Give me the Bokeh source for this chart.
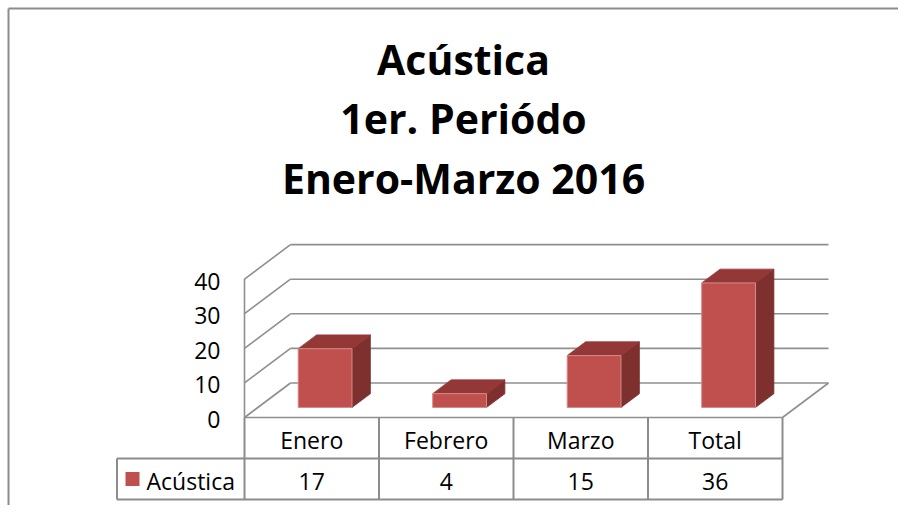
from bokeh.plotting import figure
from bokeh.models import Range1d
from bokeh.core.properties import value
from bokeh.embed import file_html
from bokeh.resources import INLINE

# ---- data ----
categories = ["Enero", "Febrero", "Marzo", "Total"]
values = [17, 4, 15, 36]
series_name = "Acústica"
y_ticks = [0, 10, 20, 30, 40]
title_lines = ["Acústica", "1er. Periódo", "Enero-Marzo 2016"]

# ---- layout (pixels) ----
W, H = 898, 505
PX_X = 134.5          # px per category column
PX_Y = 3.46           # px per value unit
OX, OY = 244, 417     # floor front-left corner, from figure top-left
DX = 46 / PX_X        # depth offset
DY = 34.5 / PX_Y
F0, F1 = 0.29, 0.69   # bar depth (fraction)
BW = 0.40
R1 = 41 / PX_Y
R2 = 82 / PX_Y
LX = (116.5 - OX) / PX_X

FONT = value("Open Sans")
FS = "23px"
GRID = "#8f8f8f"
FRONT, TOP, SIDE = "#C0504D", "#943837", "#7D302E"

p = figure(width=W, height=H, output_backend="svg", toolbar_location=None,
           x_range=Range1d(-OX / PX_X, (W - OX) / PX_X),
           y_range=Range1d(-(H - OY) / PX_Y, OY / PX_Y),
           min_border=0, outline_line_color=None)
p.axis.visible = False
p.grid.visible = False
p.background_fill_color = "white"
p.border_fill_color = "white"

def px(xp):
    return (xp - OX) / PX_X

def py(yp):
    return (OY - yp) / PX_Y

xr1 = p.x_range.end
yr0 = p.y_range.start

# outer chart border (left & top visible)
p.segment(x0=[px(8), px(8)], y0=[yr0, py(8)], x1=[px(8), xr1], y1=[py(8), py(8)],
          line_color="#8c8c8c", line_width=2)

n = len(categories)
ymax = max(y_ticks)

# back wall gridlines
p.segment(x0=[DX] * len(y_ticks), y0=[t + DY for t in y_ticks],
          x1=[n + DX] * len(y_ticks), y1=[t + DY for t in y_ticks],
          line_color=GRID, line_width=1.6)
# side wall diagonals
p.segment(x0=[0] * len(y_ticks), y0=y_ticks,
          x1=[DX] * len(y_ticks), y1=[t + DY for t in y_ticks],
          line_color=GRID, line_width=1.6)
# front vertical of side wall, floor front edge and right floor edge
p.segment(x0=[0, 0, n], y0=[0, 0, 0], x1=[0, n, n + DX], y1=[ymax, 0, DY],
          line_color=GRID, line_width=1.6)

# bars
fx, fy, fw, fh = [], [], [], []
top_xs, top_ys, side_xs, side_ys = [], [], [], []
for i, v in enumerate(values):
    xl = i + 0.5 - BW / 2 + F0 * DX
    xr = xl + BW
    y0 = F0 * DY
    dxx = (F1 - F0) * DX
    dyy = (F1 - F0) * DY
    fx.append((xl + xr) / 2); fw.append(BW)
    fy.append(y0 + v / 2); fh.append(v)
    top_xs.append([xl, xr, xr + dxx, xl + dxx])
    top_ys.append([v + y0, v + y0, v + y0 + dyy, v + y0 + dyy])
    side_xs.append([xr, xr + dxx, xr + dxx, xr])
    side_ys.append([y0, y0 + dyy, v + y0 + dyy, v + y0])

p.patches(xs=side_xs, ys=side_ys, fill_color=SIDE, line_color=SIDE, line_width=0.8)
p.patches(xs=top_xs, ys=top_ys, fill_color=TOP, line_color=TOP, line_width=0.8)
p.rect(x=fx, y=fy, width=fw, height=fh, fill_color=FRONT,
       line_color="#d58b89", line_width=1)

# y tick labels
p.text(x=[px(220)] * len(y_ticks), y=y_ticks, text=[str(t) for t in y_ticks],
       text_align="right", text_baseline="middle", y_offset=2,
       text_font=FONT, text_font_size=FS, text_color="black")

# data table lines
TBL = "#8c8c8c"
p.segment(x0=list(range(n + 1)), y0=[0] * (n + 1),
          x1=list(range(n + 1)), y1=[-R2] * (n + 1),
          line_color=TBL, line_width=2)
p.segment(x0=[LX, LX, LX], y0=[-R1, -R2, -R1], x1=[n, n, LX], y1=[-R1, -R2, -R2],
          line_color=TBL, line_width=2)

# table texts
p.text(x=[i + 0.5 for i in range(n)], y=[-R1 / 2] * n, text=categories,
       text_align="center", text_baseline="middle", y_offset=2,
       text_font=FONT, text_font_size=FS, text_color="black")
p.text(x=[i + 0.5 for i in range(n)], y=[-(R1 + R2) / 2] * n,
       text=[str(v) for v in values],
       text_align="center", text_baseline="middle", y_offset=2,
       text_font=FONT, text_font_size=FS, text_color="black")
p.scatter(x=[px(132)], y=[-(R1 + R2) / 2], marker="square", size=14,
          fill_color=FRONT, line_color=None)
p.text(x=[px(146)], y=[-(R1 + R2) / 2], text=[series_name],
       text_align="left", text_baseline="middle", y_offset=2,
       text_font=FONT, text_font_size=FS, text_color="black")

# title
title_py = [58, 117, 177]
p.text(x=[px(463)] * 3, y=[py(t) for t in title_py],
       text=title_lines, text_align="center", text_baseline="middle",
       text_font=FONT, text_font_size="41px", text_font_style="bold",
       text_color="black")

open("out.html", "w").write(file_html(p, INLINE))
